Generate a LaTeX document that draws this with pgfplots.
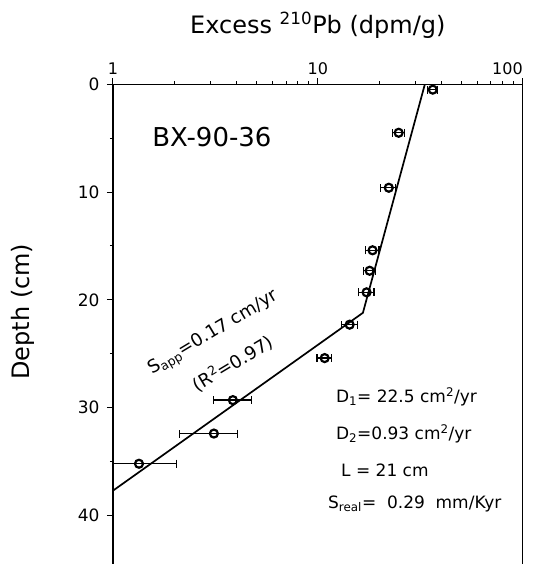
\documentclass[border=0pt]{standalone}
\usepackage{fontspec}
\setmainfont{DejaVu Sans}
\usepackage{pgfplots}
\pgfplotsset{compat=1.18}
\usepackage{pgfplotstable}

\pgfplotstableread{
x     y     em    ep
36.4  0.5   2.0   2.0
24.8  4.5   1.7   1.7
22.2  9.6   2.0   1.7
18.5  15.4  1.4   1.4
17.9  17.3  1.2   1.2
17.3  19.3  1.5   1.5
14.3  22.3  1.3   1.3
10.8  25.4  0.9   0.9
3.85  29.3  0.76  0.90
3.11  32.4  0.99  0.93
1.34  35.2  0.34  0.70
}\pbdata

\begin{document}
\begin{tikzpicture}
\begin{axis}[
  name=ax,
  scale only axis,
  width=410pt, height=480pt,
  xmode=log, xmin=1, xmax=100,
  ymin=0, ymax=44.5, y dir=reverse,
  axis x line*=top, axis y line*=left,
  axis line style={line width=1.2pt, -},
  xtick={1,10,100}, xticklabels={1,10,\makebox[0pt][r]{100}},
  ytick={0,10,20,30,40}, minor ytick={5,15,25,35},
  tick align=outside,
  major tick length=6pt, minor tick length=3pt,
  every tick/.style={black, line width=1pt},
  /pgf/number format/assume math mode=true,
  xticklabel style={font=\fontsize{16}{16}\selectfont},
  yticklabel style={font=\fontsize{17}{17}\selectfont, xshift=-4pt},
  xlabel={Excess \textsuperscript{210}Pb (dpm/g)},
  xlabel style={font=\fontsize{24}{24}\selectfont, at={(axis description cs:0.5,1.1235)}, anchor=center},
  ylabel={Depth (cm)},
  ylabel style={font=\fontsize{24}{24}\selectfont, at={(axis description cs:-0.2195,0.526)}, anchor=center},
  clip=false,
]
\draw[line width=1.2pt] (rel axis cs:1,0) -- (rel axis cs:1,1);
\addplot[black, line width=1.7pt] coordinates {(33.3,0) (16.6,21.2) (1,37.7)};
\addplot[black, only marks, mark=o, mark size=4pt,
  mark options={line width=2.2pt, fill=white},
  error bars/.cd, x dir=both, x explicit,
  error bar style={line width=1.3pt},
  error mark options={line width=1.3pt, mark size=4pt, rotate=90}]
  table[x=x, y=y, x error minus=em, x error plus=ep] {\pbdata};
\node[font=\fontsize{26}{26}\selectfont, anchor=center] at (axis cs:3.04,4.9) {BX-90-36};
\node[font=\fontsize{18}{18}\selectfont, rotate=31, anchor=center] at (axis cs:3.10,23.1) {S\textsubscript{app}=0.17 cm/yr};
\node[font=\fontsize{18}{18}\selectfont, rotate=31, anchor=center] at (axis cs:3.85,25.9) {(R\textsuperscript{2}=0.97)};
\node[font=\fontsize{17}{17}\selectfont, anchor=west] at (axis cs:11.8,29.0) {D\textsubscript{1}= 22.5 cm\textsuperscript{2}/yr};
\node[font=\fontsize{17}{17}\selectfont, anchor=west] at (axis cs:11.8,32.4) {D\textsubscript{2}=0.93 cm\textsuperscript{2}/yr};
\node[font=\fontsize{17}{17}\selectfont, anchor=west] at (axis cs:12.5,35.8) {L = 21 cm};
\node[font=\fontsize{17}{17}\selectfont, anchor=west] at (axis cs:10.8,38.9) {S\textsubscript{real}=~~0.29~~mm/Kyr};
\end{axis}
\pgfresetboundingbox
\path[use as bounding box] ([xshift=-113pt]ax.south west) rectangle ([xshift=22pt,yshift=84.3pt]ax.north east);
\end{tikzpicture}
\end{document}
